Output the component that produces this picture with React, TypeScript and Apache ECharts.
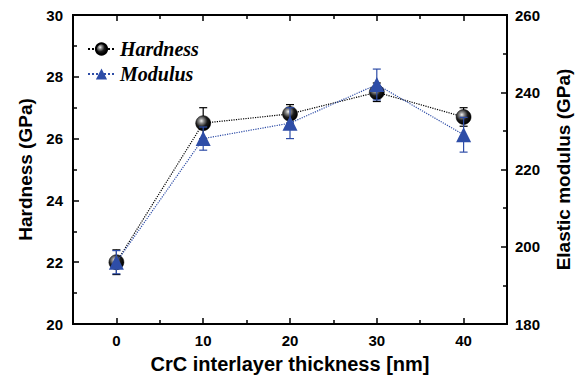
import React, { useEffect, useRef } from "react";
import * as echarts from "echarts";

const xValues = [0, 10, 20, 30, 40];
const hardness = [22.0, 26.5, 26.8, 27.5, 26.7];
const hardnessErr = [0.4, 0.5, 0.3, 0.3, 0.3];
const modulus = [196, 228, 232, 242, 229];
const modulusErr = [3, 3, 4, 4, 4.5];
const xMajorTicks = [0, 10, 20, 30, 40];
const xMinorTicks = [5, 15, 25, 35];

const BLUE = "#2E4DA7";
const FONT = "'Liberation Sans', Arial, sans-serif";

const sphere = {
  type: "radial",
  x: 0.38,
  y: 0.35,
  r: 0.65,
  colorStops: [
    { offset: 0, color: "#f2f2f2" },
    { offset: 0.25, color: "#8a8a8a" },
    { offset: 0.6, color: "#1a1a1a" },
    { offset: 1, color: "#000000" },
  ],
};

function errRender(color: string) {
  return (params: any, api: any) => {
    const x = api.value(0);
    const lo = api.coord([x, api.value(1)]);
    const hi = api.coord([x, api.value(2)]);
    const w = 4;
    const style = { stroke: color, lineWidth: 1.2 };
    return {
      type: "group",
      children: [
        { type: "line", shape: { x1: lo[0], y1: lo[1], x2: hi[0], y2: hi[1] }, style },
        { type: "line", shape: { x1: lo[0] - w, y1: lo[1], x2: lo[0] + w, y2: lo[1] }, style },
        { type: "line", shape: { x1: hi[0] - w, y1: hi[1], x2: hi[0] + w, y2: hi[1] }, style },
      ],
    };
  };
}

export default function App() {
  const ref = useRef<HTMLDivElement>(null);
  useEffect(() => {
    if (!ref.current) return;
    const chart = echarts.init(ref.current, null, { renderer: "svg" });
    const axisLine = { show: true, onZero: false, lineStyle: { color: "#000", width: 2 } };
    const tickStyle = { color: "#000", width: 1.5 };
    const xBase = {
      type: "value",
      min: -5,
      max: 45,
      splitLine: { show: false },
      axisLine,
    };
    const yLabel = { fontFamily: FONT, fontWeight: "bold", fontSize: 15, color: "#000" };
    const option: any = {
      animation: false,
      backgroundColor: "#fff",
      grid: { left: 73, right: 80, top: 15, bottom: 61 },
      legend: {
        orient: "vertical",
        left: 82,
        top: 34,
        itemWidth: 27,
        itemHeight: 14,
        itemGap: 5,
        data: ["Hardness", "Modulus"],
        textStyle: {
          fontFamily: "'Liberation Serif', 'Times New Roman', serif",
          fontStyle: "italic",
          fontWeight: "bold",
          fontSize: 20,
          color: "#000",
        },
      },
      xAxis: [
        {
          ...xBase,
          position: "bottom",
          name: "CrC interlayer thickness [nm]",
          nameLocation: "middle",
          nameGap: 30,
          nameTextStyle: { fontFamily: FONT, fontWeight: "bold", fontSize: 20, color: "#000" },
          axisTick: { show: true, inside: true, length: 6, customValues: xMajorTicks, lineStyle: tickStyle },
          axisLabel: { customValues: xMajorTicks, ...yLabel, margin: 9 },
        },
        {
          ...xBase,
          position: "bottom",
          axisTick: { show: true, inside: true, length: 4, customValues: xMinorTicks, lineStyle: tickStyle },
          axisLabel: { show: false },
        },
        {
          ...xBase,
          position: "top",
          axisTick: { show: true, inside: true, length: 6, customValues: xMajorTicks, lineStyle: tickStyle },
          axisLabel: { show: false },
        },
        {
          ...xBase,
          position: "top",
          axisTick: { show: true, inside: true, length: 4, customValues: xMinorTicks, lineStyle: tickStyle },
          axisLabel: { show: false },
        },
      ],
      yAxis: [
        {
          type: "value",
          position: "left",
          min: 20,
          max: 30,
          interval: 2,
          name: "Hardness (GPa)",
          nameLocation: "middle",
          nameGap: 38,
          nameTextStyle: { fontFamily: FONT, fontWeight: "bold", fontSize: 19, color: "#000" },
          axisLine,
          splitLine: { show: false },
          axisTick: { show: true, inside: true, length: 6, lineStyle: tickStyle },
          minorTick: { show: true, splitNumber: 2, length: 4, lineStyle: tickStyle },
          axisLabel: { ...yLabel, margin: 10 },
        },
        {
          type: "value",
          position: "right",
          min: 180,
          max: 260,
          interval: 20,
          name: "Elastic modulus (GPa)",
          nameLocation: "middle",
          nameGap: 47,
          nameRotate: 90,
          nameTextStyle: { fontFamily: FONT, fontWeight: "bold", fontSize: 19, color: "#000" },
          axisLine,
          splitLine: { show: false },
          axisTick: { show: true, inside: true, length: 6, lineStyle: tickStyle },
          minorTick: { show: true, splitNumber: 2, length: 4, lineStyle: tickStyle },
          axisLabel: { ...yLabel, margin: 8 },
        },
      ],
      series: [
        {
          name: "HardnessErr",
          type: "custom",
          xAxisIndex: 0,
          yAxisIndex: 0,
          z: 3,
          renderItem: errRender("#000"),
          data: xValues.map((x, i) => [x, hardness[i] - hardnessErr[i], hardness[i] + hardnessErr[i]]),
          encode: { x: 0, y: [1, 2] },
        },
        {
          name: "Hardness",
          type: "line",
          xAxisIndex: 0,
          yAxisIndex: 0,
          z: 4,
          data: xValues.map((x, i) => [x, hardness[i]]),
          symbol: "circle",
          symbolSize: 15,
          lineStyle: { color: "#000", width: 1.2, type: "dotted" },
          itemStyle: { color: sphere, borderColor: "#000", borderWidth: 0.5 },
        },
        {
          name: "ModulusErr",
          type: "custom",
          xAxisIndex: 0,
          yAxisIndex: 1,
          z: 5,
          renderItem: errRender(BLUE),
          data: xValues.map((x, i) => [x, modulus[i] - modulusErr[i], modulus[i] + modulusErr[i]]),
          encode: { x: 0, y: [1, 2] },
        },
        {
          name: "Modulus",
          type: "line",
          xAxisIndex: 0,
          yAxisIndex: 1,
          z: 6,
          data: xValues.map((x, i) => [x, modulus[i]]),
          symbol: "triangle",
          symbolSize: 15,
          lineStyle: { color: BLUE, width: 1.2, type: "dotted" },
          itemStyle: { color: BLUE },
        },
      ],
    };
    chart.setOption(option);
    return () => chart.dispose();
  }, []);
  return <div ref={ref} style={{ width: 587, height: 385, position: "absolute", left: 0, top: 0 }} />;
}
